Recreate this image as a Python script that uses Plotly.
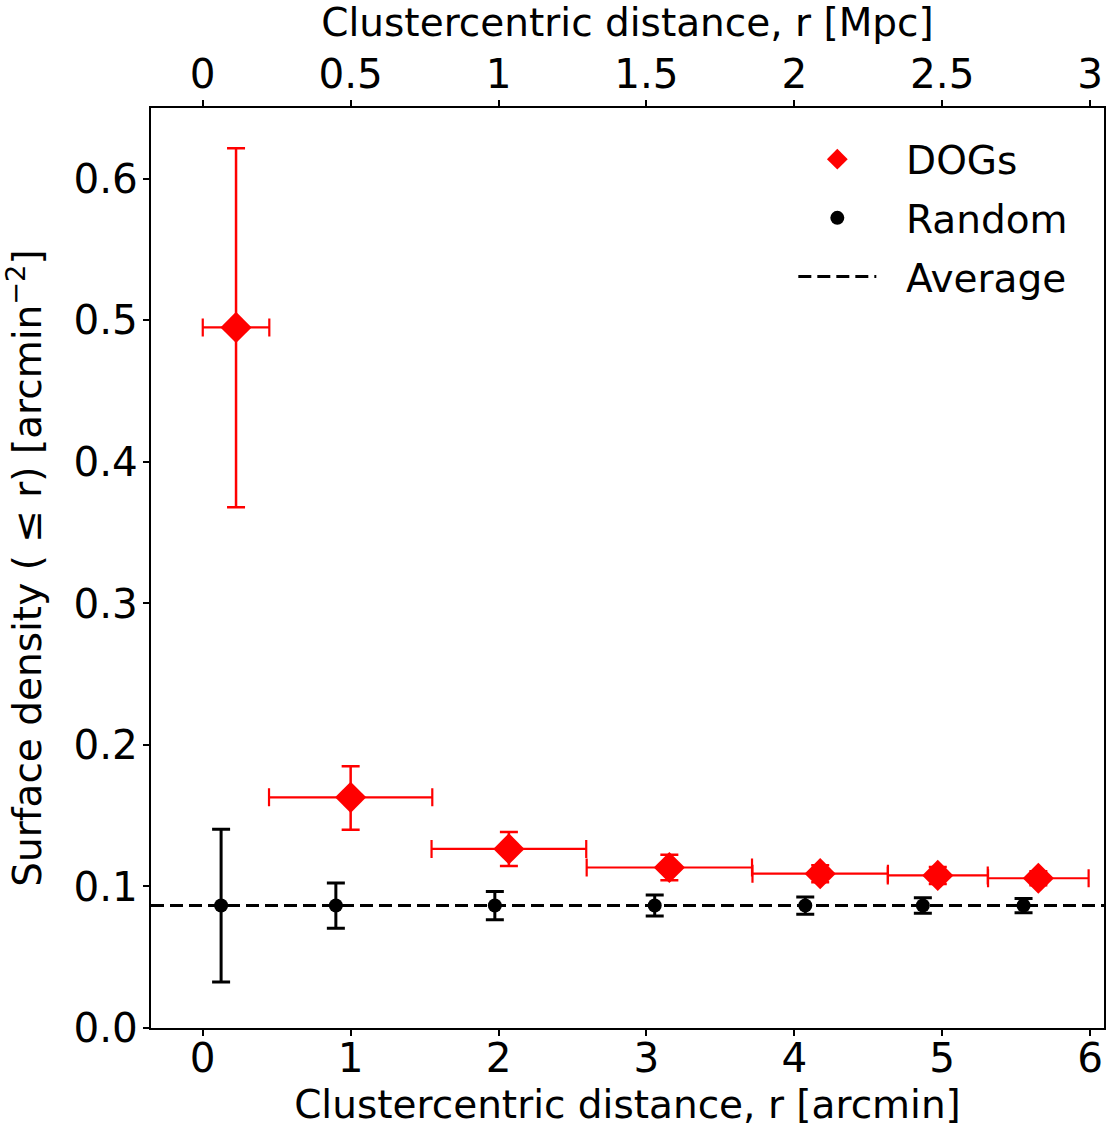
import plotly.graph_objects as go

# DOGs data
dog_x = [0.225, 1.0, 2.07, 3.155, 4.175, 4.97, 5.65]
dog_xerr = [0.225, 0.552, 0.523, 0.559, 0.458, 0.338, 0.340]
dog_y = [0.495, 0.163, 0.1265, 0.1134, 0.1090, 0.1078, 0.1058]
dog_yerr_plus = [0.1265, 0.022, 0.012, 0.009, 0.006, 0.006, 0.005]
dog_yerr_minus = [0.1270, 0.023, 0.012, 0.009, 0.006, 0.006, 0.005]

# Random data
rnd_x = [0.124, 0.90, 1.975, 3.056, 4.074, 4.869, 5.55]
rnd_y = [0.0865, 0.0865, 0.0865, 0.0865, 0.0865, 0.0865, 0.0865]
rnd_yerr = [0.054, 0.016, 0.010, 0.0074, 0.0061, 0.0055, 0.005]

average = 0.0865

x_range = [-0.35, 6.094]
mpc_per_arcmin = 0.5
y_range = [0.0, 0.65]

y_ticks = [0.0, 0.1, 0.2, 0.3, 0.4, 0.5, 0.6]
x_ticks = [0, 1, 2, 3, 4, 5, 6]
top_ticks = [0, 0.5, 1, 1.5, 2, 2.5, 3]
top_ticklabels = ["0", "0.5", "1", "1.5", "2", "2.5", "3"]

FONT = "DejaVu Sans"
FS = 39
TFS = 40.5
PAD = "\u00a0\u00a0"

fig = go.Figure()

fig.add_trace(go.Scatter(
    x=dog_x, y=dog_y, mode="markers", name=PAD + "DOGs", legendgroup="a",
    marker=dict(symbol="diamond", size=24, color="#ff0000"),
    error_x=dict(type="data", array=dog_xerr, color="#ff0000", thickness=2.2, width=9),
    error_y=dict(type="data", array=dog_yerr_plus, arrayminus=dog_yerr_minus,
                 color="#ff0000", thickness=2.5, width=9),
))

fig.add_trace(go.Scatter(
    x=rnd_x, y=rnd_y, mode="markers", name=PAD + "Random", legendgroup="b",
    marker=dict(symbol="circle", size=14, color="black"),
    error_y=dict(type="data", array=rnd_yerr, color="black", thickness=3, width=9),
))

fig.add_shape(
    type="line", xref="x domain", yref="y", x0=0, x1=1, y0=average, y1=average,
    line=dict(color="black", width=3, dash="13px,6px"),
    showlegend=True, name=PAD + "Average", legendgroup="c", layer="below",
)

# dummy trace to activate top axis
fig.add_trace(go.Scatter(x=[], y=[], xaxis="x2", showlegend=False))

axis_common = dict(
    showgrid=False, zeroline=False, showline=True, linecolor="black", linewidth=2,
    ticks="outside", ticklen=6, tickwidth=1.5, tickcolor="black", automargin=False,
    tickfont=dict(family=FONT, size=TFS, color="black"),
)

fig.update_layout(
    width=1109, height=1127,
    margin=dict(l=151, r=5, t=108, b=99),
    paper_bgcolor="white", plot_bgcolor="white",
    font=dict(family=FONT, size=FS, color="black"),
    showlegend=True,
    legend=dict(
        x=0.674, y=0.979, xanchor="left", yanchor="top",
        bgcolor="rgba(0,0,0,0)", font=dict(family=FONT, size=FS),
        itemwidth=78, tracegroupgap=5,
    ),
    xaxis=dict(
        range=x_range, tickvals=x_ticks, mirror=False, ticklabelstandoff=-13,
        title=dict(text="Clustercentric distance, r [arcmin]", font=dict(size=FS), standoff=0),
        **axis_common,
    ),
    xaxis2=dict(
        range=[v * mpc_per_arcmin for v in x_range], overlaying="x", side="top",
        tickvals=top_ticks, ticktext=top_ticklabels, ticklabelstandoff=-4,
        title=dict(text="Clustercentric distance, r [Mpc]", font=dict(size=FS), standoff=16),
        **axis_common,
    ),
    yaxis=dict(
        range=y_range, tickvals=y_ticks, tickformat=".1f", mirror=True, ticklabelstandoff=-3,
        title=dict(text="Surface density ( \u2264 r) [arcmin<sup>\u22122</sup>]", font=dict(size=FS), standoff=20),
        **axis_common,
    ),
)

fig.write_html(
    "out.html",
    config={"displayModeBar": False},
    post_script="document.body.style.margin='0px';document.body.style.overflow='hidden';",
)
